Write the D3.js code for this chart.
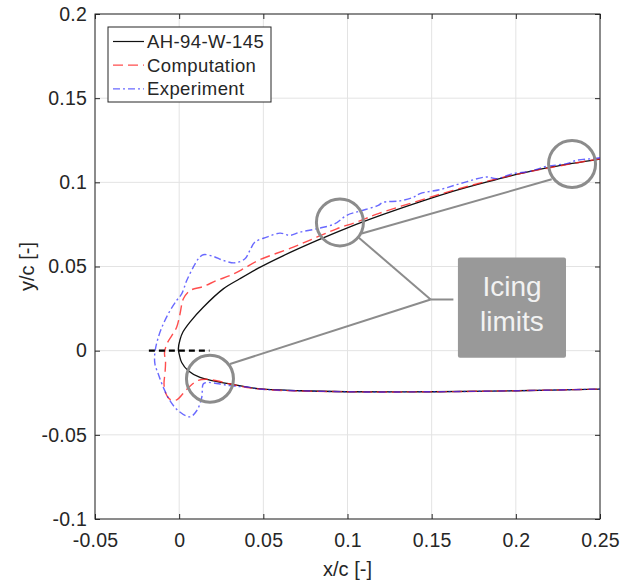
<!DOCTYPE html>
<html>
<head>
<meta charset="utf-8">
<script src="https://cdn.jsdelivr.net/npm/d3@7"></script>
<style>
  body { margin: 0; background: #fff; }
  text { font-family: "Liberation Sans", Arial, Helvetica, sans-serif; }
</style>
</head>
<body>
<div id="chart"></div>
<script>
// tick values
const xTicks = [-0.05, 0, 0.05, 0.1, 0.15, 0.2, 0.25];
const yTicks = [-0.1, -0.05, 0, 0.05, 0.1, 0.15, 0.2];

// AH-94-W-145 contour, trailing edge (upper) -> nose -> lower
const airfoil = [
    [0.25, 0.1138], [0.2223, 0.1093], [0.2025, 0.1052], [0.183, 0.1003], [0.163, 0.0948],
    [0.143, 0.0884], [0.12, 0.0805], [0.1, 0.073], [0.082, 0.0655], [0.062, 0.0565],
    [0.047, 0.049], [0.036, 0.0427], [0.0262, 0.0367], [0.0143, 0.0258], [0.0064, 0.017],
    [0.0023, 0.0112], [0.0005, 0.0065], [-0.0005, 0.001], [0.0001, -0.0024], [0.0015, -0.007],
    [0.0054, -0.0119], [0.0124, -0.0159], [0.0203, -0.0179], [0.0302, -0.0198], [0.0468, -0.0226],
    [0.0718, -0.0238], [0.0995, -0.0244], [0.151, -0.0244], [0.2005, -0.0238], [0.25, -0.0228]
];

// computed ice shape
const computation = [
    [0.25, 0.114], [0.2223, 0.1091], [0.2025, 0.1052], [0.1827, 0.1006], [0.1627, 0.0952],
    [0.1431, 0.0893], [0.1183, 0.0814], [0.1055, 0.0764], [0.0936, 0.0724], [0.0817, 0.0674],
    [0.0678, 0.0615], [0.047, 0.0536], [0.0381, 0.0486], [0.0302, 0.0446], [0.0223, 0.0417],
    [0.0143, 0.0381], [0.0064, 0.0357], [0.0025, 0.0308], [0.0005, 0.0218], [-0.0015, 0.0139],
    [-0.0044, 0.0089], [-0.0072, 0.0042], [-0.0087, -0.0012], [-0.0081, -0.0065], [-0.0084, -0.0131],
    [-0.009, -0.0196], [-0.0081, -0.025], [-0.0054, -0.0289], [-0.0015, -0.0292], [0.0025, -0.0253],
    [0.0064, -0.0211], [0.0114, -0.0176], [0.0164, -0.017], [0.0223, -0.0179], [0.0302, -0.0198],
    [0.048, -0.0228], [0.0995, -0.0244], [0.151, -0.0244], [0.2005, -0.0238], [0.25, -0.0228]
];

// measured ice shape
const experiment = [
    [0.25, 0.1146], [0.246, 0.1141], [0.2362, 0.1131], [0.2302, 0.1111], [0.2183, 0.1095],
    [0.2084, 0.1065], [0.1985, 0.1052], [0.1886, 0.1022], [0.1827, 0.1032], [0.1668, 0.0992],
    [0.155, 0.0957], [0.1431, 0.0933], [0.139, 0.0911], [0.1312, 0.089], [0.1211, 0.0881],
    [0.1183, 0.0863], [0.1074, 0.0829], [0.0995, 0.0804], [0.0926, 0.0754], [0.0817, 0.0724],
    [0.0718, 0.0704], [0.0658, 0.0685], [0.0599, 0.0698], [0.052, 0.0674], [0.045, 0.0645],
    [0.042, 0.0595], [0.0391, 0.0546], [0.0332, 0.0522], [0.0262, 0.0536], [0.0203, 0.056],
    [0.0143, 0.057], [0.0114, 0.0546], [0.0084, 0.0496], [0.0045, 0.0417], [0.0015, 0.0337],
    [-0.0015, 0.0298], [-0.0054, 0.0238], [-0.0094, 0.0159], [-0.0124, 0.0079], [-0.0144, -0.001],
    [-0.0144, -0.0079], [-0.0124, -0.0139], [-0.0094, -0.0218], [-0.0054, -0.0298], [-0.0005, -0.0357],
    [0.0064, -0.0393], [0.0104, -0.0357], [0.0134, -0.0278], [0.0143, -0.0198], [0.0164, -0.0189],
    [0.0243, -0.0198], [0.0302, -0.0208], [0.042, -0.0218], [0.048, -0.0228], [0.0995, -0.0244],
    [0.151, -0.0244], [0.2005, -0.0238], [0.25, -0.0228]
];

// stagnation line y = 0
const stagnation = [[-0.018, 0], [0.018, 0]];

// annotation: circles, leader lines and box (data coords)
const circles = [[0.0955, 0.0762], [0.2334, 0.1109], [0.0183, -0.0167]];
const leaders = [
    [[0.1084, 0.0696], [0.2213, 0.1018]],
    [[0.1064, 0.0674], [0.1494, 0.0304]],
    [[0.0302, -0.0079], [0.1494, 0.0304]],
    [[0.1494, 0.0304], [0.1629, 0.0304]]
];
const boxCorners = [[0.1656, 0.0554], [0.2298, -0.0042]];
const boxText = ["Icing", "limits"];

const legendItems = ["AH-94-W-145", "Computation", "Experiment"];

const width = 621, height = 582;
const margin = { top: 14, right: 21, bottom: 63, left: 95 };

const svg = d3.select("#chart")
    .append("svg")
    .attr("width", width)
    .attr("height", height);

const x = d3.scaleLinear().domain([-0.05, 0.25]).range([margin.left, width - margin.right]);
const y = d3.scaleLinear().domain([-0.1, 0.2]).range([height - margin.bottom, margin.top]);

// grid
svg.append("g")
    .selectAll("line.vg")
    .data(xTicks)
    .join("line")
    .attr("x1", d => x(d)).attr("x2", d => x(d))
    .attr("y1", y(-0.1)).attr("y2", y(0.2))
    .attr("stroke", "#e3e3e3").attr("stroke-width", 1);

svg.append("g")
    .selectAll("line.hg")
    .data(yTicks)
    .join("line")
    .attr("y1", d => y(d)).attr("y2", d => y(d))
    .attr("x1", x(-0.05)).attr("x2", x(0.25))
    .attr("stroke", "#e3e3e3").attr("stroke-width", 1);

// axes with inward ticks on all four sides
const tickLen = 5;
svg.append("g").attr("transform", `translate(0,${y(-0.1)})`)
    .call(d3.axisBottom(x).tickValues(xTicks).tickSizeInner(-tickLen).tickSizeOuter(0).tickPadding(14).tickFormat(d => String(d)))
    .call(g => g.select(".domain").remove());
svg.append("g").attr("transform", `translate(0,${y(0.2)})`)
    .call(d3.axisTop(x).tickValues(xTicks).tickSizeInner(-tickLen).tickSizeOuter(0).tickFormat(""))
    .call(g => g.select(".domain").remove());
svg.append("g").attr("transform", `translate(${x(-0.05)},0)`)
    .call(d3.axisLeft(y).tickValues(yTicks).tickSizeInner(-tickLen).tickSizeOuter(0).tickPadding(8).tickFormat(d => String(d)))
    .call(g => g.select(".domain").remove());
svg.append("g").attr("transform", `translate(${x(0.25)},0)`)
    .call(d3.axisRight(y).tickValues(yTicks).tickSizeInner(-tickLen).tickSizeOuter(0).tickFormat(""))
    .call(g => g.select(".domain").remove());

svg.selectAll(".tick line").attr("stroke", "#262626");
svg.selectAll(".tick text")
    .attr("fill", "#262626")
    .style("font-size", "19.5px")
    .style("letter-spacing", "0.2px")
    .style("font-family", "'Liberation Sans', Arial, sans-serif");

svg.append("rect")
    .attr("x", x(-0.05)).attr("y", y(0.2))
    .attr("width", x(0.25) - x(-0.05)).attr("height", y(-0.1) - y(0.2))
    .attr("fill", "none").attr("stroke", "#262626").attr("stroke-width", 1);

// axis labels
svg.append("text")
    .attr("x", (x(-0.05) + x(0.25)) / 2).attr("y", 576)
    .attr("text-anchor", "middle")
    .attr("fill", "#262626").style("font-size", "20px")
    .text("x/c [-]");

svg.append("text")
    .attr("transform", `translate(34,${(y(-0.1) + y(0.2)) / 2}) rotate(-90)`)
    .attr("text-anchor", "middle")
    .attr("fill", "#262626").style("font-size", "20px")
    .text("y/c [-]");

// curves
const line = d3.line()
    .x(d => x(d[0]))
    .y(d => y(d[1]))
    .curve(d3.curveCatmullRom.alpha(0.5));

svg.append("path")
    .datum(airfoil)
    .attr("d", line)
    .attr("fill", "none")
    .attr("stroke", "#111")
    .attr("stroke-width", 1.3);

svg.append("path")
    .datum(computation)
    .attr("d", line)
    .attr("fill", "none")
    .attr("stroke", "#ff2020")
    .attr("stroke-opacity", 0.8)
    .attr("stroke-width", 1.4)
    .attr("stroke-dasharray", "10,5");

svg.append("path")
    .datum(experiment)
    .attr("d", line)
    .attr("fill", "none")
    .attr("stroke", "#2a2aff")
    .attr("stroke-opacity", 0.7)
    .attr("stroke-width", 1.4)
    .attr("stroke-dasharray", "7,3,2,3");

svg.append("path")
    .datum(stagnation)
    .attr("d", d3.line().x(d => x(d[0])).y(d => y(d[1])))
    .attr("stroke", "#000")
    .attr("stroke-width", 2.4)
    .attr("stroke-dasharray", "6,4");

// annotations
svg.append("g")
    .selectAll("line")
    .data(leaders)
    .join("line")
    .attr("x1", d => x(d[0][0])).attr("y1", d => y(d[0][1]))
    .attr("x2", d => x(d[1][0])).attr("y2", d => y(d[1][1]))
    .attr("stroke", "#8c8c8c").attr("stroke-width", 2);

svg.append("g")
    .selectAll("circle")
    .data(circles)
    .join("circle")
    .attr("cx", d => x(d[0])).attr("cy", d => y(d[1]))
    .attr("r", 23.5)
    .attr("fill", "none")
    .attr("stroke", "#8c8c8c")
    .attr("stroke-width", 3);

svg.append("rect")
    .attr("x", x(boxCorners[0][0])).attr("y", y(boxCorners[0][1]))
    .attr("width", x(boxCorners[1][0]) - x(boxCorners[0][0]))
    .attr("height", y(boxCorners[1][1]) - y(boxCorners[0][1]))
    .attr("rx", 2)
    .attr("fill", "#999");

const boxCx = (x(boxCorners[0][0]) + x(boxCorners[1][0])) / 2;
svg.append("g")
    .selectAll("text")
    .data(boxText)
    .join("text")
    .attr("x", boxCx)
    .attr("y", (d, i) => 296 + i * 35)
    .attr("text-anchor", "middle")
    .attr("fill", "#f2f2f2")
    .style("font-size", "28px")
    .style("font-family", "'Liberation Sans', Arial, sans-serif")
    .text(d => d);

// legend
const legend = svg.append("g").attr("transform", "translate(108,27)");
legend.append("rect")
    .attr("width", 163).attr("height", 75)
    .attr("fill", "#fff").attr("stroke", "#262626").attr("stroke-width", 1);

const legendStyles = [
    { stroke: "#111", dash: null, op: 1 },
    { stroke: "#ff2020", dash: "10,5", op: 0.8 },
    { stroke: "#2a2aff", dash: "7,3,2,3", op: 0.7 }
];

const row = legend.selectAll("g.row")
    .data(legendItems)
    .join("g")
    .attr("transform", (d, i) => `translate(0,${14.5 + i * 23.7})`);

row.append("line")
    .attr("x1", 5).attr("x2", 36)
    .attr("stroke", (d, i) => legendStyles[i].stroke)
    .attr("stroke-opacity", (d, i) => legendStyles[i].op)
    .attr("stroke-width", 1.2)
    .attr("stroke-dasharray", (d, i) => legendStyles[i].dash);

row.append("text")
    .attr("x", 39).attr("y", 6.5)
    .attr("fill", "#262626")
    .style("font-size", "18.5px")
    .style("letter-spacing", "0.4px")
    .text(d => d);
</script>
</body>
</html>
